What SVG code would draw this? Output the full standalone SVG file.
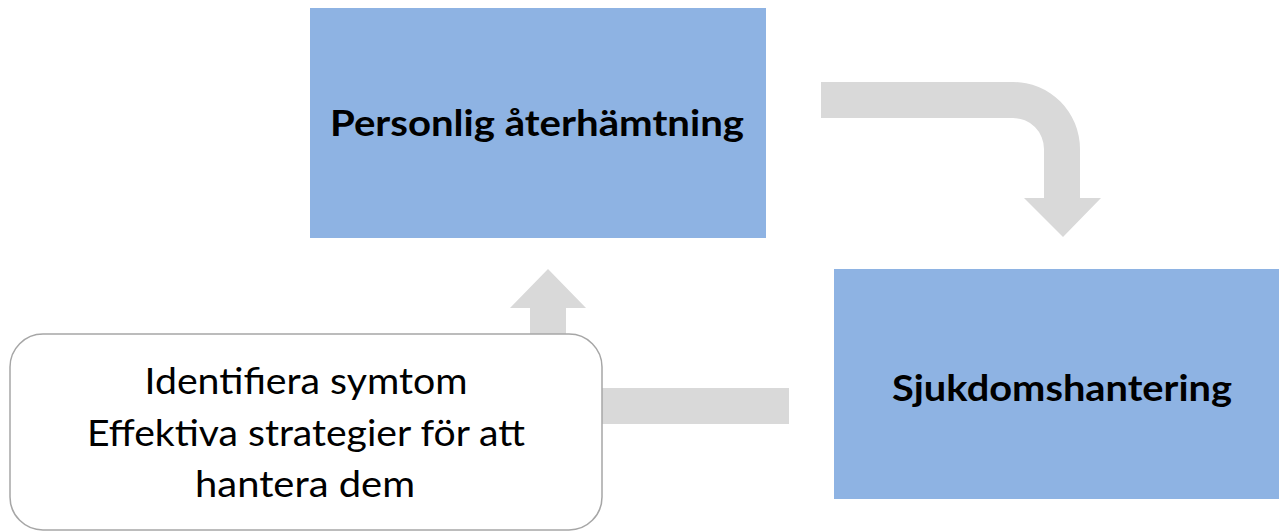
<svg xmlns="http://www.w3.org/2000/svg" width="1279" height="531" viewBox="0 0 1279 531">
  <style>
    .box { fill: #8eb3e3; }
    .arrow { fill: #d9d9d9; }
    .note { fill: #ffffff; stroke: #a6a6a6; stroke-width: 1.5; }
    .bold { font-family: Lato, "Open Sans", sans-serif; font-weight: bold; font-size: 37px; fill: #000; text-anchor: middle; }
    .reg { font-family: Lato, "Open Sans", sans-serif; font-size: 37px; fill: #000; text-anchor: middle; }
  </style>
  <rect width="1279" height="531" fill="#ffffff"/>

  <g id="connectors">
    <!-- bent arrow from top box to right box -->
    <path class="arrow" d="M821 82 H1013 A67 67 0 0 1 1080 149 V198 H1101 L1063 237 L1024 198 H1044 V149 A31 31 0 0 0 1013 118 H821 Z"/>
    <!-- return arrow: horizontal bar then up toward top box -->
    <path class="arrow" d="M789 388 V424 H530 V308 H510 L548 269 L586 308 H566 V388 Z"/>
  </g>

  <g id="node-personlig">
    <rect class="box" x="310" y="8" width="456" height="230"/>
    <text class="bold" x="537" y="136" textLength="414" lengthAdjust="spacingAndGlyphs">Personlig återhämtning</text>
  </g>

  <g id="node-sjukdom">
    <rect class="box" x="834" y="269" width="445" height="230"/>
    <text class="bold" x="1062" y="401" textLength="340" lengthAdjust="spacingAndGlyphs">Sjukdomshantering</text>
  </g>

  <g id="node-note">
    <rect class="note" x="10" y="334" width="592" height="196" rx="33" ry="33"/>
    <text class="reg" x="306" y="394" textLength="323" lengthAdjust="spacingAndGlyphs">Identifiera symtom</text>
    <text class="reg" x="306" y="446" textLength="438" lengthAdjust="spacingAndGlyphs">Effektiva strategier för att</text>
    <text class="reg" x="305" y="497" textLength="220" lengthAdjust="spacingAndGlyphs">hantera dem</text>
  </g>
</svg>
